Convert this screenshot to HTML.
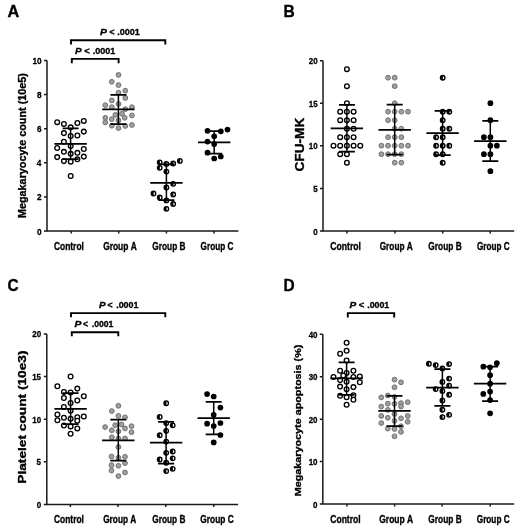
<!DOCTYPE html>
<html><head><meta charset="utf-8"><style>
html,body{margin:0;padding:0;background:#fff;}
body{width:520px;height:530px;overflow:hidden;}
svg{display:block;will-change:transform;}
text{font-family:"Liberation Sans",sans-serif;font-weight:bold;fill:#000;stroke:#000;stroke-width:0.33px;}
.t{stroke-width:0.3px;}
</style></head><body>
<svg width="520" height="530" viewBox="0 0 520 530">
<rect width="520" height="530" fill="#fff"/>
<path d="M47 60.5V231H238.4" fill="none" stroke="#1a1a1a" stroke-width="1.5"/>
<path d="M44 231H47M44 196.9H47M44 162.8H47M44 128.7H47M44 94.6H47M44 60.5H47M71.3 231V233.6M118.7 231V233.6M166.4 231V233.6M214 231V233.6" fill="none" stroke="#1a1a1a" stroke-width="1.5"/>
<text class="t" transform="translate(37.05,234.55) scale(0.860,1)" font-size="9.6">0</text>
<text class="t" transform="translate(37.05,200.45) scale(0.860,1)" font-size="9.6">2</text>
<text class="t" transform="translate(36.76,166.35) scale(0.860,1)" font-size="9.6">4</text>
<text class="t" transform="translate(37.01,132.25) scale(0.860,1)" font-size="9.6">6</text>
<text class="t" transform="translate(36.97,98.15) scale(0.860,1)" font-size="9.6">8</text>
<text class="t" transform="translate(32.47,64.05) scale(0.860,1)" font-size="9.6">10</text>
<circle cx="57.2" cy="122.2" r="2.35" fill="#fff" stroke="#000" stroke-width="1.35"/>
<circle cx="63.9" cy="123.9" r="2.35" fill="#fff" stroke="#000" stroke-width="1.35"/>
<circle cx="70.7" cy="127.3" r="2.35" fill="#fff" stroke="#000" stroke-width="1.35"/>
<circle cx="77.4" cy="123" r="2.35" fill="#fff" stroke="#000" stroke-width="1.35"/>
<circle cx="83.8" cy="120.9" r="2.35" fill="#fff" stroke="#000" stroke-width="1.35"/>
<circle cx="63.9" cy="133.1" r="2.35" fill="#fff" stroke="#000" stroke-width="1.35"/>
<circle cx="70.7" cy="136" r="2.35" fill="#fff" stroke="#000" stroke-width="1.35"/>
<circle cx="77.4" cy="135.5" r="2.35" fill="#fff" stroke="#000" stroke-width="1.35"/>
<circle cx="83.8" cy="131.6" r="2.35" fill="#fff" stroke="#000" stroke-width="1.35"/>
<circle cx="63.9" cy="141.7" r="2.35" fill="#fff" stroke="#000" stroke-width="1.35"/>
<circle cx="70.7" cy="146" r="2.35" fill="#fff" stroke="#000" stroke-width="1.35"/>
<circle cx="57.2" cy="148" r="2.35" fill="#fff" stroke="#000" stroke-width="1.35"/>
<circle cx="83.8" cy="149" r="2.35" fill="#fff" stroke="#000" stroke-width="1.35"/>
<circle cx="63.9" cy="151.8" r="2.35" fill="#fff" stroke="#000" stroke-width="1.35"/>
<circle cx="70.7" cy="153.8" r="2.35" fill="#fff" stroke="#000" stroke-width="1.35"/>
<circle cx="77.4" cy="152.8" r="2.35" fill="#fff" stroke="#000" stroke-width="1.35"/>
<circle cx="57.2" cy="157.1" r="2.35" fill="#fff" stroke="#000" stroke-width="1.35"/>
<circle cx="83.8" cy="156.6" r="2.35" fill="#fff" stroke="#000" stroke-width="1.35"/>
<circle cx="63.9" cy="161.1" r="2.35" fill="#fff" stroke="#000" stroke-width="1.35"/>
<circle cx="70.7" cy="161.7" r="2.35" fill="#fff" stroke="#000" stroke-width="1.35"/>
<circle cx="77.4" cy="159.3" r="2.35" fill="#fff" stroke="#000" stroke-width="1.35"/>
<circle cx="70.7" cy="176" r="2.35" fill="#fff" stroke="#000" stroke-width="1.35"/>
<circle cx="118.5" cy="74.9" r="2.4" fill="#a0a0a0" stroke="#707070" stroke-width="1.0"/>
<circle cx="111.8" cy="81.8" r="2.4" fill="#a0a0a0" stroke="#707070" stroke-width="1.0"/>
<circle cx="118.5" cy="85.1" r="2.4" fill="#a0a0a0" stroke="#707070" stroke-width="1.0"/>
<circle cx="125.3" cy="90.7" r="2.4" fill="#a0a0a0" stroke="#707070" stroke-width="1.0"/>
<circle cx="118.5" cy="92.7" r="2.4" fill="#a0a0a0" stroke="#707070" stroke-width="1.0"/>
<circle cx="125.3" cy="98" r="2.4" fill="#a0a0a0" stroke="#707070" stroke-width="1.0"/>
<circle cx="111.8" cy="100.4" r="2.4" fill="#a0a0a0" stroke="#707070" stroke-width="1.0"/>
<circle cx="118.5" cy="103.9" r="2.4" fill="#a0a0a0" stroke="#707070" stroke-width="1.0"/>
<circle cx="105.3" cy="105.2" r="2.4" fill="#a0a0a0" stroke="#707070" stroke-width="1.0"/>
<circle cx="111.8" cy="107.2" r="2.4" fill="#a0a0a0" stroke="#707070" stroke-width="1.0"/>
<circle cx="125.3" cy="109.2" r="2.4" fill="#a0a0a0" stroke="#707070" stroke-width="1.0"/>
<circle cx="131.9" cy="107.2" r="2.4" fill="#a0a0a0" stroke="#707070" stroke-width="1.0"/>
<circle cx="115.4" cy="114.9" r="2.4" fill="#a0a0a0" stroke="#707070" stroke-width="1.0"/>
<circle cx="122" cy="113.8" r="2.4" fill="#a0a0a0" stroke="#707070" stroke-width="1.0"/>
<circle cx="124.7" cy="117.8" r="2.4" fill="#a0a0a0" stroke="#707070" stroke-width="1.0"/>
<circle cx="131.9" cy="115.5" r="2.4" fill="#a0a0a0" stroke="#707070" stroke-width="1.0"/>
<circle cx="105.3" cy="117.8" r="2.4" fill="#a0a0a0" stroke="#707070" stroke-width="1.0"/>
<circle cx="111.8" cy="119.1" r="2.4" fill="#a0a0a0" stroke="#707070" stroke-width="1.0"/>
<circle cx="118.5" cy="120.4" r="2.4" fill="#a0a0a0" stroke="#707070" stroke-width="1.0"/>
<circle cx="105.3" cy="122.4" r="2.4" fill="#a0a0a0" stroke="#707070" stroke-width="1.0"/>
<circle cx="111.8" cy="125.7" r="2.4" fill="#a0a0a0" stroke="#707070" stroke-width="1.0"/>
<circle cx="118.5" cy="128.1" r="2.4" fill="#a0a0a0" stroke="#707070" stroke-width="1.0"/>
<circle cx="125.3" cy="126" r="2.4" fill="#a0a0a0" stroke="#707070" stroke-width="1.0"/>
<circle cx="131.9" cy="125" r="2.4" fill="#a0a0a0" stroke="#707070" stroke-width="1.0"/>
<circle cx="159.7" cy="162.3" r="2.25" fill="#fff" stroke="#000" stroke-width="1.35"/>
<path d="M159.9 160.05A2.25 2.25 0 0 0 159.9 164.55Z" fill="#000"/>
<circle cx="166.4" cy="163.9" r="2.25" fill="#fff" stroke="#000" stroke-width="1.35"/>
<path d="M166.6 161.65A2.25 2.25 0 0 0 166.6 166.15Z" fill="#000"/>
<circle cx="173.2" cy="163.5" r="2.25" fill="#fff" stroke="#000" stroke-width="1.35"/>
<path d="M173.4 161.25A2.25 2.25 0 0 0 173.4 165.75Z" fill="#000"/>
<circle cx="179.9" cy="160.9" r="2.25" fill="#fff" stroke="#000" stroke-width="1.35"/>
<path d="M180.1 158.65A2.25 2.25 0 0 0 180.1 163.15Z" fill="#000"/>
<circle cx="159.7" cy="167.8" r="2.25" fill="#fff" stroke="#000" stroke-width="1.35"/>
<path d="M159.9 165.55A2.25 2.25 0 0 0 159.9 170.05Z" fill="#000"/>
<circle cx="166.4" cy="171.6" r="2.25" fill="#fff" stroke="#000" stroke-width="1.35"/>
<path d="M166.6 169.35A2.25 2.25 0 0 0 166.6 173.85Z" fill="#000"/>
<circle cx="173.2" cy="183.8" r="2.25" fill="#fff" stroke="#000" stroke-width="1.35"/>
<path d="M173.4 181.55A2.25 2.25 0 0 0 173.4 186.05Z" fill="#000"/>
<circle cx="166.4" cy="187.4" r="2.25" fill="#fff" stroke="#000" stroke-width="1.35"/>
<path d="M166.6 185.15A2.25 2.25 0 0 0 166.6 189.65Z" fill="#000"/>
<circle cx="153.5" cy="193.5" r="2.25" fill="#fff" stroke="#000" stroke-width="1.35"/>
<path d="M153.7 191.25A2.25 2.25 0 0 0 153.7 195.75Z" fill="#000"/>
<circle cx="173.2" cy="194.5" r="2.25" fill="#fff" stroke="#000" stroke-width="1.35"/>
<path d="M173.4 192.25A2.25 2.25 0 0 0 173.4 196.75Z" fill="#000"/>
<circle cx="159.7" cy="197.5" r="2.25" fill="#fff" stroke="#000" stroke-width="1.35"/>
<path d="M159.9 195.25A2.25 2.25 0 0 0 159.9 199.75Z" fill="#000"/>
<circle cx="166.4" cy="200.4" r="2.25" fill="#fff" stroke="#000" stroke-width="1.35"/>
<path d="M166.6 198.15A2.25 2.25 0 0 0 166.6 202.65Z" fill="#000"/>
<circle cx="173.2" cy="204" r="2.25" fill="#fff" stroke="#000" stroke-width="1.35"/>
<path d="M173.4 201.75A2.25 2.25 0 0 0 173.4 206.25Z" fill="#000"/>
<circle cx="166.4" cy="208.8" r="2.25" fill="#fff" stroke="#000" stroke-width="1.35"/>
<path d="M166.6 206.55A2.25 2.25 0 0 0 166.6 211.05Z" fill="#000"/>
<circle cx="207.5" cy="130.8" r="2.85" fill="#000"/>
<circle cx="220.8" cy="131.3" r="2.85" fill="#000"/>
<circle cx="227.5" cy="129.6" r="2.85" fill="#000"/>
<circle cx="214.2" cy="136.3" r="2.85" fill="#000"/>
<circle cx="207.5" cy="141.6" r="2.85" fill="#000"/>
<circle cx="214.2" cy="144" r="2.85" fill="#000"/>
<circle cx="207.5" cy="152.7" r="2.85" fill="#000"/>
<circle cx="220.8" cy="156.5" r="2.85" fill="#000"/>
<circle cx="214.2" cy="158.5" r="2.85" fill="#000"/>
<path d="M54.4 143.9H86.8M62.6 128.3H78.6M62.6 159.1H78.6" fill="none" stroke="#000" stroke-width="1.75"/>
<path d="M70.6 128.3V159.1" fill="none" stroke="#000" stroke-width="1.5"/>
<path d="M102.2 109.4H134.6M110.4 94.8H126.4M110.4 124.2H126.4" fill="none" stroke="#000" stroke-width="1.75"/>
<path d="M118.4 94.8V124.2" fill="none" stroke="#000" stroke-width="1.5"/>
<path d="M150.2 182.9H182.6M158.4 164.4H174.4M158.4 200.2H174.4" fill="none" stroke="#000" stroke-width="1.75"/>
<path d="M166.4 164.4V200.2" fill="none" stroke="#000" stroke-width="1.5"/>
<path d="M198 142.4H230.4M206.2 131H222.2M206.2 153.7H222.2" fill="none" stroke="#000" stroke-width="1.75"/>
<path d="M214.2 131V153.7" fill="none" stroke="#000" stroke-width="1.5"/>
<path d="M71 44.4V40.3H165.3V44.4" fill="none" stroke="#000" stroke-width="1.9"/>
<path d="M71.8 63.2V58.9H118.6V63.2" fill="none" stroke="#000" stroke-width="1.9"/>
<text transform="translate(99.89,34.8) scale(1.097,1)" font-size="9.4" font-style="italic">P</text>
<text transform="translate(109.45,34.8) scale(0.927,1)" font-size="9.4">&lt;</text>
<text transform="translate(117.17,34.8) scale(0.960,1)" font-size="9.4">.0001</text>
<text transform="translate(74.9,54.3) scale(1.047,1)" font-size="9.4" font-style="italic">P</text>
<text transform="translate(84.13,54.3) scale(0.990,1)" font-size="9.4">&lt;</text>
<text transform="translate(92.67,54.3) scale(0.960,1)" font-size="9.4">.0001</text>
<text transform="translate(7.39,16.6) scale(1.043,1)" font-size="15.6">A</text>
<text transform="translate(53.96,249.6) scale(0.826,1)" font-size="10.2">Control</text>
<text transform="translate(103.16,249.6) scale(0.826,1)" font-size="10.2">Group&#160;A</text>
<text transform="translate(152.37,249.6) scale(0.812,1)" font-size="10.2">Group&#160;B</text>
<text transform="translate(200.57,249.6) scale(0.803,1)" font-size="10.2">Group&#160;C</text>
<text transform="translate(25.8,218.11) rotate(-90) scale(1.063,1)" font-size="10.21">Megakaryocyte&#160;count&#160;(10e5)</text>
<path d="M323 60.7V231H514.2" fill="none" stroke="#1a1a1a" stroke-width="1.5"/>
<path d="M320 231H323M320 188.43H323M320 145.85H323M320 103.27H323M320 60.7H323M346.9 231V233.6M395 231V233.6M442.7 231V233.6M490.2 231V233.6" fill="none" stroke="#1a1a1a" stroke-width="1.5"/>
<text class="t" transform="translate(313.3,234.55) scale(0.830,1)" font-size="9.6">0</text>
<text class="t" transform="translate(313.18,191.98) scale(0.830,1)" font-size="9.6">5</text>
<text class="t" transform="translate(308.87,149.4) scale(0.830,1)" font-size="9.6">10</text>
<text class="t" transform="translate(308.75,106.82) scale(0.830,1)" font-size="9.6">15</text>
<text class="t" transform="translate(308.87,64.25) scale(0.830,1)" font-size="9.6">20</text>
<circle cx="346.9" cy="69.2" r="2.35" fill="#fff" stroke="#000" stroke-width="1.35"/>
<circle cx="346.9" cy="86.2" r="2.35" fill="#fff" stroke="#000" stroke-width="1.35"/>
<circle cx="346.9" cy="103.2" r="2.35" fill="#fff" stroke="#000" stroke-width="1.35"/>
<circle cx="340.2" cy="111.7" r="2.35" fill="#fff" stroke="#000" stroke-width="1.35"/>
<circle cx="346.9" cy="111.7" r="2.35" fill="#fff" stroke="#000" stroke-width="1.35"/>
<circle cx="353.6" cy="111.7" r="2.35" fill="#fff" stroke="#000" stroke-width="1.35"/>
<circle cx="340.2" cy="120.2" r="2.35" fill="#fff" stroke="#000" stroke-width="1.35"/>
<circle cx="346.9" cy="120.2" r="2.35" fill="#fff" stroke="#000" stroke-width="1.35"/>
<circle cx="353.6" cy="120.2" r="2.35" fill="#fff" stroke="#000" stroke-width="1.35"/>
<circle cx="346.9" cy="128.7" r="2.35" fill="#fff" stroke="#000" stroke-width="1.35"/>
<circle cx="353.6" cy="128.7" r="2.35" fill="#fff" stroke="#000" stroke-width="1.35"/>
<circle cx="340.2" cy="137.2" r="2.35" fill="#fff" stroke="#000" stroke-width="1.35"/>
<circle cx="346.9" cy="137.2" r="2.35" fill="#fff" stroke="#000" stroke-width="1.35"/>
<circle cx="353.6" cy="137.2" r="2.35" fill="#fff" stroke="#000" stroke-width="1.35"/>
<circle cx="333.5" cy="145.7" r="2.35" fill="#fff" stroke="#000" stroke-width="1.35"/>
<circle cx="340.2" cy="145.7" r="2.35" fill="#fff" stroke="#000" stroke-width="1.35"/>
<circle cx="346.9" cy="145.7" r="2.35" fill="#fff" stroke="#000" stroke-width="1.35"/>
<circle cx="353.6" cy="145.7" r="2.35" fill="#fff" stroke="#000" stroke-width="1.35"/>
<circle cx="360.3" cy="145.7" r="2.35" fill="#fff" stroke="#000" stroke-width="1.35"/>
<circle cx="340.2" cy="154.2" r="2.35" fill="#fff" stroke="#000" stroke-width="1.35"/>
<circle cx="346.9" cy="154.2" r="2.35" fill="#fff" stroke="#000" stroke-width="1.35"/>
<circle cx="346.9" cy="162.7" r="2.35" fill="#fff" stroke="#000" stroke-width="1.35"/>
<circle cx="388.05" cy="77.7" r="2.4" fill="#a0a0a0" stroke="#707070" stroke-width="1.0"/>
<circle cx="394.7" cy="77.7" r="2.4" fill="#a0a0a0" stroke="#707070" stroke-width="1.0"/>
<circle cx="394.7" cy="86.2" r="2.4" fill="#a0a0a0" stroke="#707070" stroke-width="1.0"/>
<circle cx="394.7" cy="103.2" r="2.4" fill="#a0a0a0" stroke="#707070" stroke-width="1.0"/>
<circle cx="388.05" cy="111.7" r="2.4" fill="#a0a0a0" stroke="#707070" stroke-width="1.0"/>
<circle cx="394.7" cy="111.7" r="2.4" fill="#a0a0a0" stroke="#707070" stroke-width="1.0"/>
<circle cx="401.35" cy="111.7" r="2.4" fill="#a0a0a0" stroke="#707070" stroke-width="1.0"/>
<circle cx="408" cy="111.7" r="2.4" fill="#a0a0a0" stroke="#707070" stroke-width="1.0"/>
<circle cx="388.05" cy="120.2" r="2.4" fill="#a0a0a0" stroke="#707070" stroke-width="1.0"/>
<circle cx="394.7" cy="120.2" r="2.4" fill="#a0a0a0" stroke="#707070" stroke-width="1.0"/>
<circle cx="394.7" cy="128.7" r="2.4" fill="#a0a0a0" stroke="#707070" stroke-width="1.0"/>
<circle cx="401.35" cy="128.7" r="2.4" fill="#a0a0a0" stroke="#707070" stroke-width="1.0"/>
<circle cx="388.05" cy="137.2" r="2.4" fill="#a0a0a0" stroke="#707070" stroke-width="1.0"/>
<circle cx="394.7" cy="137.2" r="2.4" fill="#a0a0a0" stroke="#707070" stroke-width="1.0"/>
<circle cx="401.35" cy="137.2" r="2.4" fill="#a0a0a0" stroke="#707070" stroke-width="1.0"/>
<circle cx="381.4" cy="145.7" r="2.4" fill="#a0a0a0" stroke="#707070" stroke-width="1.0"/>
<circle cx="388.05" cy="145.7" r="2.4" fill="#a0a0a0" stroke="#707070" stroke-width="1.0"/>
<circle cx="394.7" cy="145.7" r="2.4" fill="#a0a0a0" stroke="#707070" stroke-width="1.0"/>
<circle cx="401.35" cy="145.7" r="2.4" fill="#a0a0a0" stroke="#707070" stroke-width="1.0"/>
<circle cx="408" cy="145.7" r="2.4" fill="#a0a0a0" stroke="#707070" stroke-width="1.0"/>
<circle cx="381.4" cy="154.2" r="2.4" fill="#a0a0a0" stroke="#707070" stroke-width="1.0"/>
<circle cx="388.05" cy="154.2" r="2.4" fill="#a0a0a0" stroke="#707070" stroke-width="1.0"/>
<circle cx="394.7" cy="154.2" r="2.4" fill="#a0a0a0" stroke="#707070" stroke-width="1.0"/>
<circle cx="401.35" cy="154.2" r="2.4" fill="#a0a0a0" stroke="#707070" stroke-width="1.0"/>
<circle cx="394.7" cy="162.7" r="2.4" fill="#a0a0a0" stroke="#707070" stroke-width="1.0"/>
<circle cx="401.35" cy="162.7" r="2.4" fill="#a0a0a0" stroke="#707070" stroke-width="1.0"/>
<circle cx="442.7" cy="77.7" r="2.25" fill="#fff" stroke="#000" stroke-width="1.35"/>
<path d="M442.9 75.45A2.25 2.25 0 0 0 442.9 79.95Z" fill="#000"/>
<circle cx="442.7" cy="111.7" r="2.25" fill="#fff" stroke="#000" stroke-width="1.35"/>
<path d="M442.9 109.45A2.25 2.25 0 0 0 442.9 113.95Z" fill="#000"/>
<circle cx="449.3" cy="111.7" r="2.25" fill="#fff" stroke="#000" stroke-width="1.35"/>
<path d="M449.5 109.45A2.25 2.25 0 0 0 449.5 113.95Z" fill="#000"/>
<circle cx="442.7" cy="120.2" r="2.25" fill="#fff" stroke="#000" stroke-width="1.35"/>
<path d="M442.9 117.95A2.25 2.25 0 0 0 442.9 122.45Z" fill="#000"/>
<circle cx="442.7" cy="128.7" r="2.25" fill="#fff" stroke="#000" stroke-width="1.35"/>
<path d="M442.9 126.45A2.25 2.25 0 0 0 442.9 130.95Z" fill="#000"/>
<circle cx="449.3" cy="128.7" r="2.25" fill="#fff" stroke="#000" stroke-width="1.35"/>
<path d="M449.5 126.45A2.25 2.25 0 0 0 449.5 130.95Z" fill="#000"/>
<circle cx="436.1" cy="137.2" r="2.25" fill="#fff" stroke="#000" stroke-width="1.35"/>
<path d="M436.3 134.95A2.25 2.25 0 0 0 436.3 139.45Z" fill="#000"/>
<circle cx="442.7" cy="137.2" r="2.25" fill="#fff" stroke="#000" stroke-width="1.35"/>
<path d="M442.9 134.95A2.25 2.25 0 0 0 442.9 139.45Z" fill="#000"/>
<circle cx="436.1" cy="145.7" r="2.25" fill="#fff" stroke="#000" stroke-width="1.35"/>
<path d="M436.3 143.45A2.25 2.25 0 0 0 436.3 147.95Z" fill="#000"/>
<circle cx="442.7" cy="145.7" r="2.25" fill="#fff" stroke="#000" stroke-width="1.35"/>
<path d="M442.9 143.45A2.25 2.25 0 0 0 442.9 147.95Z" fill="#000"/>
<circle cx="449.3" cy="145.7" r="2.25" fill="#fff" stroke="#000" stroke-width="1.35"/>
<path d="M449.5 143.45A2.25 2.25 0 0 0 449.5 147.95Z" fill="#000"/>
<circle cx="436.1" cy="154.2" r="2.25" fill="#fff" stroke="#000" stroke-width="1.35"/>
<path d="M436.3 151.95A2.25 2.25 0 0 0 436.3 156.45Z" fill="#000"/>
<circle cx="442.7" cy="154.2" r="2.25" fill="#fff" stroke="#000" stroke-width="1.35"/>
<path d="M442.9 151.95A2.25 2.25 0 0 0 442.9 156.45Z" fill="#000"/>
<circle cx="442.7" cy="162.7" r="2.25" fill="#fff" stroke="#000" stroke-width="1.35"/>
<path d="M442.9 160.45A2.25 2.25 0 0 0 442.9 164.95Z" fill="#000"/>
<circle cx="490.4" cy="103.2" r="2.85" fill="#000"/>
<circle cx="490.4" cy="120.2" r="2.85" fill="#000"/>
<circle cx="483.9" cy="137.2" r="2.85" fill="#000"/>
<circle cx="490.4" cy="137.2" r="2.85" fill="#000"/>
<circle cx="490.4" cy="145.7" r="2.85" fill="#000"/>
<circle cx="496.9" cy="145.7" r="2.85" fill="#000"/>
<circle cx="483.9" cy="154.2" r="2.85" fill="#000"/>
<circle cx="490.4" cy="154.2" r="2.85" fill="#000"/>
<circle cx="490.4" cy="171.2" r="2.85" fill="#000"/>
<path d="M330.7 128.4H363.1M338.9 104.9H354.9M338.9 151.5H354.9" fill="none" stroke="#000" stroke-width="1.75"/>
<path d="M346.9 104.9V151.5" fill="none" stroke="#000" stroke-width="1.5"/>
<path d="M378.5 129.8H410.9M386.7 104.6H402.7M386.7 154.6H402.7" fill="none" stroke="#000" stroke-width="1.75"/>
<path d="M394.7 104.6V154.6" fill="none" stroke="#000" stroke-width="1.5"/>
<path d="M426.4 133.1H458.8M434.6 110.9H450.6M434.6 155.2H450.6" fill="none" stroke="#000" stroke-width="1.75"/>
<path d="M442.6 110.9V155.2" fill="none" stroke="#000" stroke-width="1.5"/>
<path d="M474.1 141.2H506.5M482.3 120.8H498.3M482.3 161H498.3" fill="none" stroke="#000" stroke-width="1.75"/>
<path d="M490.3 120.8V161" fill="none" stroke="#000" stroke-width="1.5"/>
<text transform="translate(283.49,16.6) scale(0.998,1)" font-size="15.6">B</text>
<text transform="translate(330.25,249.6) scale(0.849,1)" font-size="10.2">Control</text>
<text transform="translate(379.67,249.6) scale(0.813,1)" font-size="10.2">Group&#160;A</text>
<text transform="translate(428.37,249.6) scale(0.817,1)" font-size="10.2">Group&#160;B</text>
<text transform="translate(476.97,249.6) scale(0.801,1)" font-size="10.2">Group&#160;C</text>
<text transform="translate(303.9,171.55) rotate(-90) scale(1.008,1)" font-size="13.57">CFU-MK</text>
<path d="M46.8 333.9V504.4H238.1" fill="none" stroke="#1a1a1a" stroke-width="1.5"/>
<path d="M43.8 504.4H46.8M43.8 461.77H46.8M43.8 419.15H46.8M43.8 376.52H46.8M43.8 333.9H46.8M70.4 504.4V507M117.9 504.4V507M165.8 504.4V507M213.8 504.4V507" fill="none" stroke="#1a1a1a" stroke-width="1.5"/>
<text class="t" transform="translate(36.7,507.95) scale(0.830,1)" font-size="9.6">0</text>
<text class="t" transform="translate(36.58,465.32) scale(0.830,1)" font-size="9.6">5</text>
<text class="t" transform="translate(32.27,422.7) scale(0.830,1)" font-size="9.6">10</text>
<text class="t" transform="translate(32.15,380.07) scale(0.830,1)" font-size="9.6">15</text>
<text class="t" transform="translate(32.27,337.45) scale(0.830,1)" font-size="9.6">20</text>
<circle cx="70.6" cy="376.5" r="2.35" fill="#fff" stroke="#000" stroke-width="1.35"/>
<circle cx="57.4" cy="386.2" r="2.35" fill="#fff" stroke="#000" stroke-width="1.35"/>
<circle cx="77.3" cy="388.6" r="2.35" fill="#fff" stroke="#000" stroke-width="1.35"/>
<circle cx="63.9" cy="391.9" r="2.35" fill="#fff" stroke="#000" stroke-width="1.35"/>
<circle cx="70.6" cy="392.4" r="2.35" fill="#fff" stroke="#000" stroke-width="1.35"/>
<circle cx="83.8" cy="396.3" r="2.35" fill="#fff" stroke="#000" stroke-width="1.35"/>
<circle cx="63.9" cy="398" r="2.35" fill="#fff" stroke="#000" stroke-width="1.35"/>
<circle cx="77.3" cy="400.5" r="2.35" fill="#fff" stroke="#000" stroke-width="1.35"/>
<circle cx="70.6" cy="403" r="2.35" fill="#fff" stroke="#000" stroke-width="1.35"/>
<circle cx="63.9" cy="407" r="2.35" fill="#fff" stroke="#000" stroke-width="1.35"/>
<circle cx="70.6" cy="410.8" r="2.35" fill="#fff" stroke="#000" stroke-width="1.35"/>
<circle cx="57.4" cy="414.5" r="2.35" fill="#fff" stroke="#000" stroke-width="1.35"/>
<circle cx="83.8" cy="416.5" r="2.35" fill="#fff" stroke="#000" stroke-width="1.35"/>
<circle cx="57.4" cy="420.2" r="2.35" fill="#fff" stroke="#000" stroke-width="1.35"/>
<circle cx="63.9" cy="417.8" r="2.35" fill="#fff" stroke="#000" stroke-width="1.35"/>
<circle cx="70.6" cy="418.8" r="2.35" fill="#fff" stroke="#000" stroke-width="1.35"/>
<circle cx="77.3" cy="417.3" r="2.35" fill="#fff" stroke="#000" stroke-width="1.35"/>
<circle cx="77.3" cy="420.7" r="2.35" fill="#fff" stroke="#000" stroke-width="1.35"/>
<circle cx="63.9" cy="425.5" r="2.35" fill="#fff" stroke="#000" stroke-width="1.35"/>
<circle cx="70.6" cy="426.4" r="2.35" fill="#fff" stroke="#000" stroke-width="1.35"/>
<circle cx="77.3" cy="428.4" r="2.35" fill="#fff" stroke="#000" stroke-width="1.35"/>
<circle cx="70.6" cy="433.7" r="2.35" fill="#fff" stroke="#000" stroke-width="1.35"/>
<circle cx="118.4" cy="405.8" r="2.4" fill="#a0a0a0" stroke="#707070" stroke-width="1.0"/>
<circle cx="111.8" cy="411.1" r="2.4" fill="#a0a0a0" stroke="#707070" stroke-width="1.0"/>
<circle cx="118.4" cy="415.9" r="2.4" fill="#a0a0a0" stroke="#707070" stroke-width="1.0"/>
<circle cx="125" cy="417.3" r="2.4" fill="#a0a0a0" stroke="#707070" stroke-width="1.0"/>
<circle cx="115.2" cy="425.2" r="2.4" fill="#a0a0a0" stroke="#707070" stroke-width="1.0"/>
<circle cx="121.4" cy="424.5" r="2.4" fill="#a0a0a0" stroke="#707070" stroke-width="1.0"/>
<circle cx="105.1" cy="427.1" r="2.4" fill="#a0a0a0" stroke="#707070" stroke-width="1.0"/>
<circle cx="125" cy="428.4" r="2.4" fill="#a0a0a0" stroke="#707070" stroke-width="1.0"/>
<circle cx="131.5" cy="426.2" r="2.4" fill="#a0a0a0" stroke="#707070" stroke-width="1.0"/>
<circle cx="111.8" cy="430.3" r="2.4" fill="#a0a0a0" stroke="#707070" stroke-width="1.0"/>
<circle cx="118.4" cy="431.3" r="2.4" fill="#a0a0a0" stroke="#707070" stroke-width="1.0"/>
<circle cx="131.5" cy="432.2" r="2.4" fill="#a0a0a0" stroke="#707070" stroke-width="1.0"/>
<circle cx="111.8" cy="437.3" r="2.4" fill="#a0a0a0" stroke="#707070" stroke-width="1.0"/>
<circle cx="118.4" cy="438.5" r="2.4" fill="#a0a0a0" stroke="#707070" stroke-width="1.0"/>
<circle cx="125" cy="438.5" r="2.4" fill="#a0a0a0" stroke="#707070" stroke-width="1.0"/>
<circle cx="118.4" cy="447" r="2.4" fill="#a0a0a0" stroke="#707070" stroke-width="1.0"/>
<circle cx="111.5" cy="456.5" r="2.4" fill="#a0a0a0" stroke="#707070" stroke-width="1.0"/>
<circle cx="118.4" cy="457.8" r="2.4" fill="#a0a0a0" stroke="#707070" stroke-width="1.0"/>
<circle cx="125" cy="456.8" r="2.4" fill="#a0a0a0" stroke="#707070" stroke-width="1.0"/>
<circle cx="111.5" cy="465.2" r="2.4" fill="#a0a0a0" stroke="#707070" stroke-width="1.0"/>
<circle cx="118.4" cy="465.8" r="2.4" fill="#a0a0a0" stroke="#707070" stroke-width="1.0"/>
<circle cx="125" cy="463.1" r="2.4" fill="#a0a0a0" stroke="#707070" stroke-width="1.0"/>
<circle cx="111.5" cy="470.6" r="2.4" fill="#a0a0a0" stroke="#707070" stroke-width="1.0"/>
<circle cx="125" cy="472.5" r="2.4" fill="#a0a0a0" stroke="#707070" stroke-width="1.0"/>
<circle cx="118.4" cy="476.1" r="2.4" fill="#a0a0a0" stroke="#707070" stroke-width="1.0"/>
<circle cx="166.2" cy="403.2" r="2.25" fill="#fff" stroke="#000" stroke-width="1.35"/>
<path d="M166.4 400.95A2.25 2.25 0 0 0 166.4 405.45Z" fill="#000"/>
<circle cx="159.7" cy="416.9" r="2.25" fill="#fff" stroke="#000" stroke-width="1.35"/>
<path d="M159.9 414.65A2.25 2.25 0 0 0 159.9 419.15Z" fill="#000"/>
<circle cx="166.2" cy="423.1" r="2.25" fill="#fff" stroke="#000" stroke-width="1.35"/>
<path d="M166.4 420.85A2.25 2.25 0 0 0 166.4 425.35Z" fill="#000"/>
<circle cx="172.7" cy="425.3" r="2.25" fill="#fff" stroke="#000" stroke-width="1.35"/>
<path d="M172.9 423.05A2.25 2.25 0 0 0 172.9 427.55Z" fill="#000"/>
<circle cx="166.2" cy="430.8" r="2.25" fill="#fff" stroke="#000" stroke-width="1.35"/>
<path d="M166.4 428.55A2.25 2.25 0 0 0 166.4 433.05Z" fill="#000"/>
<circle cx="159.7" cy="435.2" r="2.25" fill="#fff" stroke="#000" stroke-width="1.35"/>
<path d="M159.9 432.95A2.25 2.25 0 0 0 159.9 437.45Z" fill="#000"/>
<circle cx="166.2" cy="441.6" r="2.25" fill="#fff" stroke="#000" stroke-width="1.35"/>
<path d="M166.4 439.35A2.25 2.25 0 0 0 166.4 443.85Z" fill="#000"/>
<circle cx="166.2" cy="452.8" r="2.25" fill="#fff" stroke="#000" stroke-width="1.35"/>
<path d="M166.4 450.55A2.25 2.25 0 0 0 166.4 455.05Z" fill="#000"/>
<circle cx="172.7" cy="451.5" r="2.25" fill="#fff" stroke="#000" stroke-width="1.35"/>
<path d="M172.9 449.25A2.25 2.25 0 0 0 172.9 453.75Z" fill="#000"/>
<circle cx="172.7" cy="458.3" r="2.25" fill="#fff" stroke="#000" stroke-width="1.35"/>
<path d="M172.9 456.05A2.25 2.25 0 0 0 172.9 460.55Z" fill="#000"/>
<circle cx="159.7" cy="459.5" r="2.25" fill="#fff" stroke="#000" stroke-width="1.35"/>
<path d="M159.9 457.25A2.25 2.25 0 0 0 159.9 461.75Z" fill="#000"/>
<circle cx="166.2" cy="462.7" r="2.25" fill="#fff" stroke="#000" stroke-width="1.35"/>
<path d="M166.4 460.45A2.25 2.25 0 0 0 166.4 464.95Z" fill="#000"/>
<circle cx="172.7" cy="468.8" r="2.25" fill="#fff" stroke="#000" stroke-width="1.35"/>
<path d="M172.9 466.55A2.25 2.25 0 0 0 172.9 471.05Z" fill="#000"/>
<circle cx="166.2" cy="471.1" r="2.25" fill="#fff" stroke="#000" stroke-width="1.35"/>
<path d="M166.4 468.85A2.25 2.25 0 0 0 166.4 473.35Z" fill="#000"/>
<circle cx="207.1" cy="394.1" r="2.85" fill="#000"/>
<circle cx="213.7" cy="396.5" r="2.85" fill="#000"/>
<circle cx="220.4" cy="407.6" r="2.85" fill="#000"/>
<circle cx="213.7" cy="414.8" r="2.85" fill="#000"/>
<circle cx="207.1" cy="423.7" r="2.85" fill="#000"/>
<circle cx="220.4" cy="423" r="2.85" fill="#000"/>
<circle cx="213.7" cy="426" r="2.85" fill="#000"/>
<circle cx="220.4" cy="435" r="2.85" fill="#000"/>
<circle cx="213.7" cy="442.4" r="2.85" fill="#000"/>
<path d="M54.4 408.8H86.8M62.6 393.2H78.6M62.6 424H78.6" fill="none" stroke="#000" stroke-width="1.75"/>
<path d="M70.6 393.2V424" fill="none" stroke="#000" stroke-width="1.5"/>
<path d="M102.1 440.4H134.5M110.3 419.7H126.3M110.3 460.7H126.3" fill="none" stroke="#000" stroke-width="1.75"/>
<path d="M118.3 419.7V460.7" fill="none" stroke="#000" stroke-width="1.5"/>
<path d="M149.9 442.6H182.3M158.1 421.9H174.1M158.1 463.7H174.1" fill="none" stroke="#000" stroke-width="1.75"/>
<path d="M166.1 421.9V463.7" fill="none" stroke="#000" stroke-width="1.5"/>
<path d="M197.5 418.2H229.9M205.7 401.8H221.7M205.7 434.4H221.7" fill="none" stroke="#000" stroke-width="1.75"/>
<path d="M213.7 401.8V434.4" fill="none" stroke="#000" stroke-width="1.5"/>
<path d="M71 317.3V313.1H165.3V317.3" fill="none" stroke="#000" stroke-width="1.9"/>
<path d="M71.8 336.3V332.2H118.3V336.3" fill="none" stroke="#000" stroke-width="1.9"/>
<text transform="translate(98.9,308.4) scale(1.047,1)" font-size="9.4" font-style="italic">P</text>
<text transform="translate(107.45,308.4) scale(0.927,1)" font-size="9.4">&lt;</text>
<text transform="translate(116.17,308.4) scale(0.951,1)" font-size="9.4">.0001</text>
<text transform="translate(74.59,327.4) scale(1.097,1)" font-size="9.4" font-style="italic">P</text>
<text transform="translate(83.05,327.4) scale(0.927,1)" font-size="9.4">&lt;</text>
<text transform="translate(91.79,327.4) scale(0.920,1)" font-size="9.4">.0001</text>
<text transform="translate(7.38,291) scale(0.988,1)" font-size="15.6">C</text>
<text transform="translate(54.06,523) scale(0.824,1)" font-size="10.2">Control</text>
<text transform="translate(103.17,523) scale(0.813,1)" font-size="10.2">Group&#160;A</text>
<text transform="translate(152.37,523) scale(0.810,1)" font-size="10.2">Group&#160;B</text>
<text transform="translate(200.37,523) scale(0.818,1)" font-size="10.2">Group&#160;C</text>
<text transform="translate(26,483.69) rotate(-90) scale(1.342,1)" font-size="10.21">Platelet&#160;count&#160;(10e3)</text>
<path d="M322.8 334.3V504H514.2" fill="none" stroke="#1a1a1a" stroke-width="1.5"/>
<path d="M319.8 504H322.8M319.8 461.57H322.8M319.8 419.15H322.8M319.8 376.73H322.8M319.8 334.3H322.8M346.9 504V506.6M394.6 504V506.6M442.1 504V506.6M490.2 504V506.6" fill="none" stroke="#1a1a1a" stroke-width="1.5"/>
<text class="t" transform="translate(313.1,507.55) scale(0.830,1)" font-size="9.6">0</text>
<text class="t" transform="translate(308.67,465.12) scale(0.830,1)" font-size="9.6">10</text>
<text class="t" transform="translate(308.67,422.7) scale(0.830,1)" font-size="9.6">20</text>
<text class="t" transform="translate(308.67,380.28) scale(0.830,1)" font-size="9.6">30</text>
<text class="t" transform="translate(308.67,337.85) scale(0.830,1)" font-size="9.6">40</text>
<circle cx="346.6" cy="342.7" r="2.35" fill="#fff" stroke="#000" stroke-width="1.35"/>
<circle cx="346.6" cy="350.7" r="2.35" fill="#fff" stroke="#000" stroke-width="1.35"/>
<circle cx="340.1" cy="353.8" r="2.35" fill="#fff" stroke="#000" stroke-width="1.35"/>
<circle cx="346.6" cy="360.5" r="2.35" fill="#fff" stroke="#000" stroke-width="1.35"/>
<circle cx="340.1" cy="370.7" r="2.35" fill="#fff" stroke="#000" stroke-width="1.35"/>
<circle cx="353.4" cy="370.8" r="2.35" fill="#fff" stroke="#000" stroke-width="1.35"/>
<circle cx="346.6" cy="373" r="2.35" fill="#fff" stroke="#000" stroke-width="1.35"/>
<circle cx="343.3" cy="375.5" r="2.35" fill="#fff" stroke="#000" stroke-width="1.35"/>
<circle cx="333.5" cy="376.9" r="2.35" fill="#fff" stroke="#000" stroke-width="1.35"/>
<circle cx="353.4" cy="377" r="2.35" fill="#fff" stroke="#000" stroke-width="1.35"/>
<circle cx="359.8" cy="376.4" r="2.35" fill="#fff" stroke="#000" stroke-width="1.35"/>
<circle cx="340.1" cy="380" r="2.35" fill="#fff" stroke="#000" stroke-width="1.35"/>
<circle cx="346.6" cy="381.7" r="2.35" fill="#fff" stroke="#000" stroke-width="1.35"/>
<circle cx="359.8" cy="382.3" r="2.35" fill="#fff" stroke="#000" stroke-width="1.35"/>
<circle cx="340.1" cy="386.6" r="2.35" fill="#fff" stroke="#000" stroke-width="1.35"/>
<circle cx="353.4" cy="387.1" r="2.35" fill="#fff" stroke="#000" stroke-width="1.35"/>
<circle cx="346.6" cy="389.2" r="2.35" fill="#fff" stroke="#000" stroke-width="1.35"/>
<circle cx="340.1" cy="395.8" r="2.35" fill="#fff" stroke="#000" stroke-width="1.35"/>
<circle cx="346.6" cy="397.2" r="2.35" fill="#fff" stroke="#000" stroke-width="1.35"/>
<circle cx="353.4" cy="395.3" r="2.35" fill="#fff" stroke="#000" stroke-width="1.35"/>
<circle cx="353.4" cy="399.8" r="2.35" fill="#fff" stroke="#000" stroke-width="1.35"/>
<circle cx="346.6" cy="404.7" r="2.35" fill="#fff" stroke="#000" stroke-width="1.35"/>
<circle cx="394.5" cy="379.6" r="2.4" fill="#a0a0a0" stroke="#707070" stroke-width="1.0"/>
<circle cx="401" cy="382.3" r="2.4" fill="#a0a0a0" stroke="#707070" stroke-width="1.0"/>
<circle cx="394.5" cy="387.3" r="2.4" fill="#a0a0a0" stroke="#707070" stroke-width="1.0"/>
<circle cx="387.8" cy="395.5" r="2.4" fill="#a0a0a0" stroke="#707070" stroke-width="1.0"/>
<circle cx="394.5" cy="396.9" r="2.4" fill="#a0a0a0" stroke="#707070" stroke-width="1.0"/>
<circle cx="381.3" cy="397.4" r="2.4" fill="#a0a0a0" stroke="#707070" stroke-width="1.0"/>
<circle cx="387.8" cy="403.7" r="2.4" fill="#a0a0a0" stroke="#707070" stroke-width="1.0"/>
<circle cx="394.5" cy="403.8" r="2.4" fill="#a0a0a0" stroke="#707070" stroke-width="1.0"/>
<circle cx="401" cy="403.2" r="2.4" fill="#a0a0a0" stroke="#707070" stroke-width="1.0"/>
<circle cx="401" cy="406.5" r="2.4" fill="#a0a0a0" stroke="#707070" stroke-width="1.0"/>
<circle cx="407.7" cy="402.2" r="2.4" fill="#a0a0a0" stroke="#707070" stroke-width="1.0"/>
<circle cx="381.3" cy="406.6" r="2.4" fill="#a0a0a0" stroke="#707070" stroke-width="1.0"/>
<circle cx="387.8" cy="409.9" r="2.4" fill="#a0a0a0" stroke="#707070" stroke-width="1.0"/>
<circle cx="394.5" cy="414" r="2.4" fill="#a0a0a0" stroke="#707070" stroke-width="1.0"/>
<circle cx="381.3" cy="416" r="2.4" fill="#a0a0a0" stroke="#707070" stroke-width="1.0"/>
<circle cx="387.8" cy="417.8" r="2.4" fill="#a0a0a0" stroke="#707070" stroke-width="1.0"/>
<circle cx="401" cy="418.3" r="2.4" fill="#a0a0a0" stroke="#707070" stroke-width="1.0"/>
<circle cx="407.7" cy="416" r="2.4" fill="#a0a0a0" stroke="#707070" stroke-width="1.0"/>
<circle cx="407.7" cy="421.8" r="2.4" fill="#a0a0a0" stroke="#707070" stroke-width="1.0"/>
<circle cx="394.5" cy="420.9" r="2.4" fill="#a0a0a0" stroke="#707070" stroke-width="1.0"/>
<circle cx="381.3" cy="423.1" r="2.4" fill="#a0a0a0" stroke="#707070" stroke-width="1.0"/>
<circle cx="387.8" cy="428.6" r="2.4" fill="#a0a0a0" stroke="#707070" stroke-width="1.0"/>
<circle cx="394.5" cy="429" r="2.4" fill="#a0a0a0" stroke="#707070" stroke-width="1.0"/>
<circle cx="401" cy="426.2" r="2.4" fill="#a0a0a0" stroke="#707070" stroke-width="1.0"/>
<circle cx="401" cy="431.9" r="2.4" fill="#a0a0a0" stroke="#707070" stroke-width="1.0"/>
<circle cx="394.5" cy="436.3" r="2.4" fill="#a0a0a0" stroke="#707070" stroke-width="1.0"/>
<circle cx="428.9" cy="363.7" r="2.25" fill="#fff" stroke="#000" stroke-width="1.35"/>
<path d="M429.1 361.45A2.25 2.25 0 0 0 429.1 365.95Z" fill="#000"/>
<circle cx="435.7" cy="365.1" r="2.25" fill="#fff" stroke="#000" stroke-width="1.35"/>
<path d="M435.9 362.85A2.25 2.25 0 0 0 435.9 367.35Z" fill="#000"/>
<circle cx="449.1" cy="364.1" r="2.25" fill="#fff" stroke="#000" stroke-width="1.35"/>
<path d="M449.3 361.85A2.25 2.25 0 0 0 449.3 366.35Z" fill="#000"/>
<circle cx="442.4" cy="368.5" r="2.25" fill="#fff" stroke="#000" stroke-width="1.35"/>
<path d="M442.6 366.25A2.25 2.25 0 0 0 442.6 370.75Z" fill="#000"/>
<circle cx="449.1" cy="378.6" r="2.25" fill="#fff" stroke="#000" stroke-width="1.35"/>
<path d="M449.3 376.35A2.25 2.25 0 0 0 449.3 380.85Z" fill="#000"/>
<circle cx="442.4" cy="381.9" r="2.25" fill="#fff" stroke="#000" stroke-width="1.35"/>
<path d="M442.6 379.65A2.25 2.25 0 0 0 442.6 384.15Z" fill="#000"/>
<circle cx="449.1" cy="385.6" r="2.25" fill="#fff" stroke="#000" stroke-width="1.35"/>
<path d="M449.3 383.35A2.25 2.25 0 0 0 449.3 387.85Z" fill="#000"/>
<circle cx="435.7" cy="389.1" r="2.25" fill="#fff" stroke="#000" stroke-width="1.35"/>
<path d="M435.9 386.85A2.25 2.25 0 0 0 435.9 391.35Z" fill="#000"/>
<circle cx="442.4" cy="391.1" r="2.25" fill="#fff" stroke="#000" stroke-width="1.35"/>
<path d="M442.6 388.85A2.25 2.25 0 0 0 442.6 393.35Z" fill="#000"/>
<circle cx="449.1" cy="394.7" r="2.25" fill="#fff" stroke="#000" stroke-width="1.35"/>
<path d="M449.3 392.45A2.25 2.25 0 0 0 449.3 396.95Z" fill="#000"/>
<circle cx="442.4" cy="400.4" r="2.25" fill="#fff" stroke="#000" stroke-width="1.35"/>
<path d="M442.6 398.15A2.25 2.25 0 0 0 442.6 402.65Z" fill="#000"/>
<circle cx="442.4" cy="409.7" r="2.25" fill="#fff" stroke="#000" stroke-width="1.35"/>
<path d="M442.6 407.45A2.25 2.25 0 0 0 442.6 411.95Z" fill="#000"/>
<circle cx="449.1" cy="414.8" r="2.25" fill="#fff" stroke="#000" stroke-width="1.35"/>
<path d="M449.3 412.55A2.25 2.25 0 0 0 449.3 417.05Z" fill="#000"/>
<circle cx="442.4" cy="417.1" r="2.25" fill="#fff" stroke="#000" stroke-width="1.35"/>
<path d="M442.6 414.85A2.25 2.25 0 0 0 442.6 419.35Z" fill="#000"/>
<circle cx="496.8" cy="363.2" r="2.85" fill="#000"/>
<circle cx="483.3" cy="366.7" r="2.85" fill="#000"/>
<circle cx="490.1" cy="367.3" r="2.85" fill="#000"/>
<circle cx="490.1" cy="375.2" r="2.85" fill="#000"/>
<circle cx="490.1" cy="383.7" r="2.85" fill="#000"/>
<circle cx="490.1" cy="391.6" r="2.85" fill="#000"/>
<circle cx="483.3" cy="393.9" r="2.85" fill="#000"/>
<circle cx="490.1" cy="400.1" r="2.85" fill="#000"/>
<circle cx="490.1" cy="413.3" r="2.85" fill="#000"/>
<path d="M330.4 378.3H362.8M338.6 362.4H354.6M338.6 394.8H354.6" fill="none" stroke="#000" stroke-width="1.75"/>
<path d="M346.6 362.4V394.8" fill="none" stroke="#000" stroke-width="1.5"/>
<path d="M378.3 410.9H410.7M386.5 395.8H402.5M386.5 426H402.5" fill="none" stroke="#000" stroke-width="1.75"/>
<path d="M394.5 395.8V426" fill="none" stroke="#000" stroke-width="1.5"/>
<path d="M426.2 387.5H458.6M434.4 369.2H450.4M434.4 405.9H450.4" fill="none" stroke="#000" stroke-width="1.75"/>
<path d="M442.4 369.2V405.9" fill="none" stroke="#000" stroke-width="1.5"/>
<path d="M473.9 383.7H506.3M482.1 366.5H498.1M482.1 401H498.1" fill="none" stroke="#000" stroke-width="1.75"/>
<path d="M490.1 366.5V401" fill="none" stroke="#000" stroke-width="1.5"/>
<path d="M347.8 317.5V313.1H394.2V317.5" fill="none" stroke="#000" stroke-width="1.9"/>
<text transform="translate(349.4,308.3) scale(1.064,1)" font-size="9.4" font-style="italic">P</text>
<text transform="translate(358.72,308.3) scale(1.011,1)" font-size="9.4">&lt;</text>
<text transform="translate(367.18,308.3) scale(0.938,1)" font-size="9.4">.0001</text>
<text transform="translate(283.5,290.8) scale(0.990,1)" font-size="15.6">D</text>
<text transform="translate(330.26,522.5) scale(0.838,1)" font-size="10.2">Control</text>
<text transform="translate(379.26,522.5) scale(0.833,1)" font-size="10.2">Group&#160;A</text>
<text transform="translate(428.37,522.5) scale(0.817,1)" font-size="10.2">Group&#160;B</text>
<text transform="translate(476.77,522.5) scale(0.806,1)" font-size="10.2">Group&#160;C</text>
<text transform="translate(301.4,496.2) rotate(-90) scale(1.186,1)" font-size="9.1">Megakaryocyte&#160;apoptosis&#160;(%)</text>
</svg>
</body></html>
